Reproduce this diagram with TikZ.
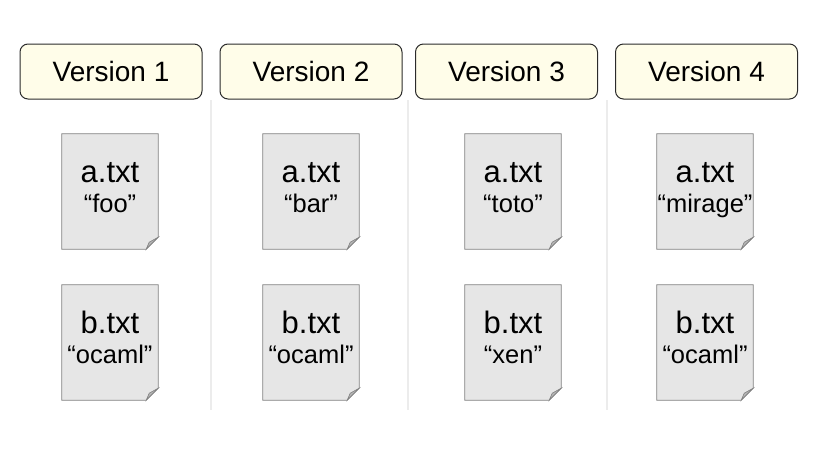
\documentclass[tikz,border=0pt]{standalone}
\usepackage{fontspec}
\setmainfont{Liberation Sans}
\usepackage{xcolor}
\usepackage{tikz}
\usetikzlibrary{positioning,backgrounds}

\definecolor{headfill}{HTML}{FFFDE9}
\definecolor{headline}{HTML}{2B2B2B}
\definecolor{docfill}{HTML}{E6E6E6}
\definecolor{docline}{HTML}{808080}
\definecolor{foldfill}{HTML}{B4B4B4}
\definecolor{sepline}{HTML}{ECECEC}

\begin{document}
\begin{tikzpicture}[x=1pt, y=-1pt,
  version/.style={draw=headline, fill=headfill, rounded corners=8pt, line width=1pt,
    minimum width=182pt, minimum height=55pt, inner sep=0pt, font=\fontsize{28}{32}\selectfont},
  docfile/.style={minimum width=96pt, minimum height=115pt, inner sep=0pt},
  fname/.style={anchor=base, inner sep=0pt, font=\fontsize{31}{34}\selectfont},
  fdata/.style={anchor=base, inner sep=0pt, font=\fontsize{25.5}{28}\selectfont}]
\useasboundingbox (0,0) rectangle (835,461);

% version headers
\node[version] (v1) at (111,71.5) {Version 1};
\node[version] (v2) at (311,71.5) {Version 2};
\node[version] (v3) at (506.5,71.5) {Version 3};
\node[version] (v4) at (706.5,71.5) {Version 4};

% separators between columns
\coordinate (s1top) at (211,100);
\coordinate (s1bot) at (211,410);
\coordinate (s2top) at (408,100);
\coordinate (s2bot) at (408,410);
\coordinate (s3top) at (607,100);
\coordinate (s3bot) at (607,410);
\draw[sepline, line width=1.5pt] (s1top) -- (s1bot);
\draw[sepline, line width=1.5pt] (s2top) -- (s2bot);
\draw[sepline, line width=1.5pt] (s3top) -- (s3bot);

% files
\node[docfile] (a1) at (110,191.5) {};
\node[docfile] (b1) at (110,342.5) {};
\node[docfile] (a2) at (311,191.5) {};
\node[docfile] (b2) at (311,342.5) {};
\node[docfile] (a3) at (513,191.5) {};
\node[docfile] (b3) at (513,342.5) {};
\node[docfile] (a4) at (705,191.5) {};
\node[docfile] (b4) at (705,342.5) {};

\begin{scope}[on background layer]
\foreach \d in {a1,b1,a2,b2,a3,b3,a4,b4} {
  \filldraw[fill=docfill, draw=docline, line width=0.8pt]
    (\d.north west) -- (\d.north east) -- ([yshift=12pt]\d.south east)
    -- ([xshift=-12pt]\d.south east) -- (\d.south west) -- cycle;
  \filldraw[fill=foldfill, draw=docline, line width=0.6pt]
    ([yshift=12pt]\d.south east) -- ([xshift=-12pt]\d.south east)
    -- ([xshift=-9pt,yshift=7pt]\d.south east) -- cycle;
}
\end{scope}

\node[fname] (a1n) at ([yshift=9.2pt]a1.center) {a.txt};
\node[fdata] (a1d) at ([yshift=-21pt]a1.center) {“foo”};
\node[fname] (b1n) at ([yshift=9.2pt]b1.center) {b.txt};
\node[fdata] (b1d) at ([yshift=-21pt]b1.center) {“ocaml”};

\node[fname] (a2n) at ([yshift=9.2pt]a2.center) {a.txt};
\node[fdata] (a2d) at ([yshift=-21pt]a2.center) {“bar”};
\node[fname] (b2n) at ([yshift=9.2pt]b2.center) {b.txt};
\node[fdata] (b2d) at ([yshift=-21pt]b2.center) {“ocaml”};

\node[fname] (a3n) at ([yshift=9.2pt]a3.center) {a.txt};
\node[fdata] (a3d) at ([yshift=-21pt]a3.center) {“toto”};
\node[fname] (b3n) at ([yshift=9.2pt]b3.center) {b.txt};
\node[fdata] (b3d) at ([yshift=-21pt]b3.center) {“xen”};

\node[fname] (a4n) at ([yshift=9.2pt]a4.center) {a.txt};
\node[fdata] (a4d) at ([yshift=-21pt]a4.center) {“mirage”};
\node[fname] (b4n) at ([yshift=9.2pt]b4.center) {b.txt};
\node[fdata] (b4d) at ([yshift=-21pt]b4.center) {“ocaml”};

\end{tikzpicture}
\end{document}
